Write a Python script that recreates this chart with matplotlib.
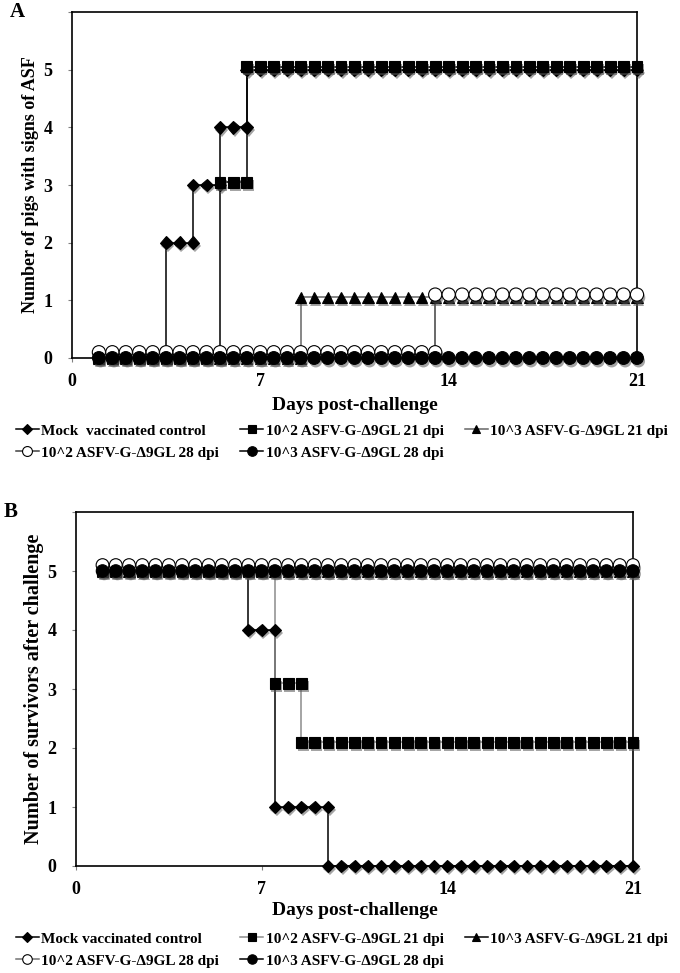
import numpy as np
import matplotlib
matplotlib.use('Agg')
import matplotlib.pyplot as plt
import matplotlib.patheffects as pe
from matplotlib.lines import Line2D

plt.rcParams['font.family'] = ['Liberation Serif', 'DejaVu Serif']
plt.rcParams['font.weight'] = 'bold'

# step levels per series: (first day, last day, value), sampled every half day
step = 0.5
mock_a = [(1, 3.5, 0), (3.5, 4.5, 2), (4.5, 5.5, 3), (5.5, 6.5, 4), (6.5, 21, 5)]
lo21_a = [(1, 5.5, 0), (5.5, 6.5, 3.05), (6.5, 21, 5.05)]
hi21_a = [(1, 8.5, 0), (8.5, 21, 1.05)]
lo28_a = [(1, 13.5, 0.1), (13.5, 21, 1.1)]
hi28_a = [(1, 21, 0)]

mock_b = [(1, 6.5, 5), (6.5, 7.5, 4), (7.5, 9.5, 1), (9.5, 21, 0)]
lo21_b = [(1, 7.5, 5), (7.5, 8.5, 3.1), (8.5, 21, 2.1)]
hi21_b = [(1, 21, 5)]
lo28_b = [(1, 21, 5.1)]
hi28_b = [(1, 21, 5)]

labels_a = ['Mock  vaccinated control', '10^2 ASFV-G-\u03949GL 21 dpi', '10^3 ASFV-G-\u03949GL 21 dpi',
            '10^2 ASFV-G-\u03949GL 28 dpi', '10^3 ASFV-G-\u03949GL 28 dpi']
labels_b = ['Mock vaccinated control', '10^2 ASFV-G-\u03949GL 21 dpi', '10^3 ASFV-G-\u03949GL 21 dpi',
            '10^2 ASFV-G-\u03949GL 28 dpi', '10^3 ASFV-G-\u03949GL 28 dpi']
xticks = [0, 7, 14, 21]
yticks = [0, 1, 2, 3, 4, 5, 6]
ylabels_txt = ['0', '1', '2', '3', '4', '5', '']

# marker, size, face colour, line colour
styles_a = [('D', 6.5, 'black', 'black'), ('s', 7.8, 'black', 'black'), ('^', 8, 'black', '0.4'),
            ('o', 9.5, 'white', '0.25'), ('o', 9.2, 'black', 'black')]
styles_b = [('D', 6.5, 'black', 'black'), ('s', 7.8, 'black', '0.55'), ('^', 8, 'black', 'black'),
            ('o', 9.2, 'white', '0.45'), ('o', 9.0, 'black', 'black')]


def build(levels):
    xs, ys = [], []
    for a, b, v in levels:
        pts = np.arange(a, b + step / 2, step)
        xs.extend(pts)
        ys.extend([v] * len(pts))
    return np.array(xs), np.array(ys)


shadow = [pe.SimplePatchShadow(offset=(1.2, -2.2), shadow_rgbFace='0.35', alpha=0.55), pe.Normal()]


def panel(fig, rect, series, styles, labels, ylab, ylab_size, ylab_pad, xlab_pad,
          letter, letter_x, leg_y, leg_x):
    ax = fig.add_axes(rect)
    handles = []
    for lev, (mk, ms, fc, lc) in zip(series, styles):
        x, y = build(lev)
        ax.plot(x, y, '-', color=lc, lw=1.1, zorder=2)
        ax.plot(x, y, linestyle='none', marker=mk, ms=ms, mfc=fc, mec='black', mew=0.8,
                path_effects=shadow, zorder=3, clip_on=False)
        handles.append(Line2D([], [], color=lc, lw=1.1, marker=mk, ms=ms * 0.75, mfc=fc,
                              mec='black', mew=0.8))
    ax.set_xlim(0, 21)
    ax.set_ylim(0, 6)
    ax.set_xticks(xticks)
    ax.set_yticks(yticks)
    ax.set_yticklabels(ylabels_txt)
    ax.tick_params(labelsize=13, length=3, color='0.5')
    ax.tick_params(axis='x', pad=8)
    ax.tick_params(axis='y', pad=11)
    for lab in ax.get_xticklabels() + ax.get_yticklabels():
        lab.set_fontweight('bold')
    for s in ax.spines.values():
        s.set_linewidth(1.2)
    ax.set_xlabel('Days post-challenge', fontsize=14, fontweight='bold', labelpad=xlab_pad)
    ax.set_ylabel(ylab, fontsize=ylab_size, fontweight='bold', labelpad=ylab_pad)
    fig.text(letter_x, rect[1] + rect[3], letter, fontsize=15, fontweight='bold',
             ha='left', va='center')
    # reorder so that the legend fills row by row
    order = [0, 3, 1, 4, 2]
    fig.legend([handles[i] for i in order], [labels[i] for i in order], loc='upper left',
               bbox_to_anchor=(leg_x, leg_y), ncol=3, frameon=False, handlelength=1.5,
               handletextpad=0.15, columnspacing=1.4, labelspacing=0.55, borderaxespad=0,
               borderpad=0, prop={'weight': 'bold', 'size': 11})
    return ax


fig = plt.figure(figsize=(6.8, 9.73), dpi=100)
panel(fig, [72 / 680, 1 - 358 / 973, 565 / 680, 346 / 973],
      [mock_a, lo21_a, hi21_a, lo28_a, hi28_a], styles_a, labels_a,
      'Number of pigs with signs of ASF', 13, 3, 4.5, 'A', 10 / 680, 1 - 424 / 973, 16 / 680)
panel(fig, [76 / 680, 1 - 866 / 973, 557 / 680, 354 / 973],
      [mock_b, lo21_b, hi21_b, lo28_b, hi28_b], styles_b, labels_b,
      'Number of survivors after challenge', 14.5, 2.5, 2.5, 'B', 4 / 680, 1 - 932 / 973, 16 / 680)

fig.savefig('out.png', dpi=100)
